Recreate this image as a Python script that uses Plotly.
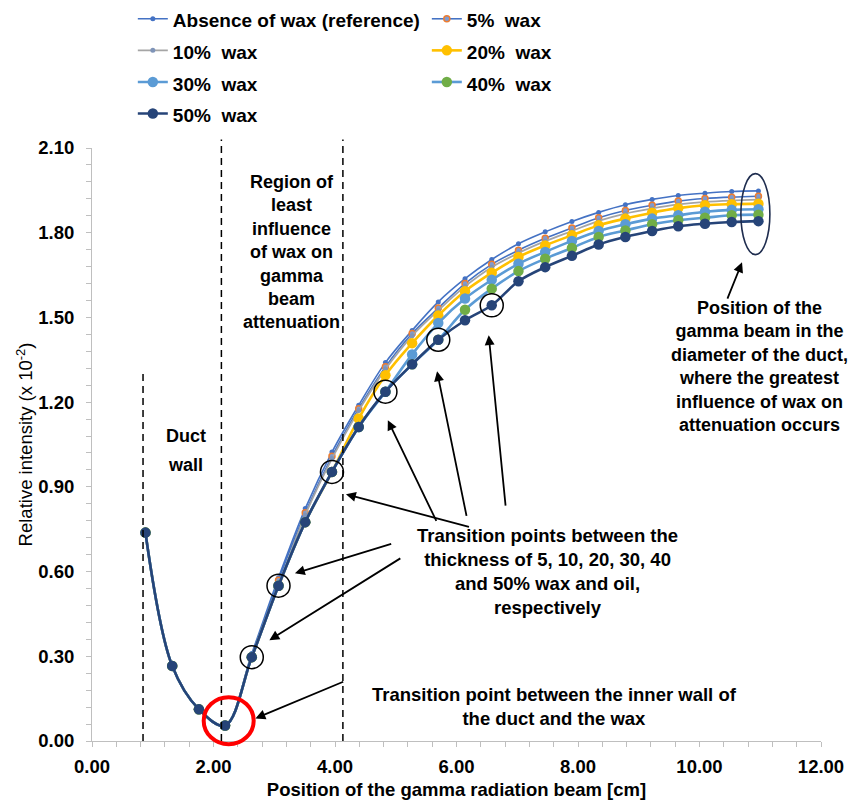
import plotly.graph_objects as go

# ---------------- data ----------------
x_pos = [0.88, 1.32, 1.76, 2.19, 2.63, 3.07, 3.51, 3.95, 4.39, 4.83, 5.27, 5.70,
         6.14, 6.58, 7.02, 7.46, 7.90, 8.34, 8.78, 9.22, 9.65, 10.09, 10.53, 10.97]

ref_wax = [0.738, 0.266, 0.112, 0.055, 0.310, 0.578, 0.823, 1.023, 1.189, 1.340, 1.454, 1.555,
           1.637, 1.705, 1.761, 1.803, 1.840, 1.872, 1.899, 1.918, 1.932, 1.940, 1.946, 1.948]
wax_5 = [0.738, 0.266, 0.112, 0.055, 0.300, 0.569, 0.808, 1.008, 1.177, 1.325, 1.443, 1.533,
         1.620, 1.688, 1.738, 1.780, 1.817, 1.853, 1.879, 1.897, 1.912, 1.921, 1.926, 1.929]
wax_10 = [0.738, 0.266, 0.112, 0.055, 0.297, 0.550, 0.800, 1.000, 1.170, 1.317, 1.435, 1.525,
          1.610, 1.678, 1.728, 1.770, 1.806, 1.842, 1.868, 1.886, 1.900, 1.909, 1.914, 1.917]
wax_20 = [0.738, 0.266, 0.112, 0.055, 0.297, 0.550, 0.775, 0.953, 1.142, 1.295, 1.409, 1.507,
          1.593, 1.658, 1.714, 1.755, 1.791, 1.826, 1.850, 1.871, 1.887, 1.897, 1.901, 1.903]
wax_30 = [0.738, 0.266, 0.112, 0.055, 0.297, 0.550, 0.775, 0.953, 1.112, 1.237, 1.369, 1.480,
          1.567, 1.633, 1.690, 1.732, 1.771, 1.806, 1.830, 1.850, 1.862, 1.874, 1.881, 1.883]
wax_40 = [0.738, 0.266, 0.112, 0.055, 0.297, 0.550, 0.775, 0.953, 1.112, 1.237, 1.334, 1.421,
          1.527, 1.602, 1.664, 1.708, 1.746, 1.785, 1.808, 1.830, 1.844, 1.853, 1.862, 1.864]
wax_50 = [0.738, 0.266, 0.112, 0.055, 0.297, 0.550, 0.775, 0.953, 1.112, 1.237, 1.334, 1.421,
          1.490, 1.543, 1.628, 1.678, 1.718, 1.758, 1.785, 1.806, 1.823, 1.832, 1.838, 1.841]

series_names = ["Absence of wax (reference)", "5%  wax", "10%  wax", "20%  wax",
                "30%  wax", "40%  wax", "50%  wax"]

transition_idx = [4, 5, 7, 9, 11, 13]     # points circled on the 50% curve
duct_lines_x = [0.84, 2.13, 4.13]
duct_lines_top = [1.31, 2.13, 2.13]

x_ticks = [0, 2, 4, 6, 8, 10, 12]
y_ticks = [0.0, 0.3, 0.6, 0.9, 1.2, 1.5, 1.8, 2.1]

# ---------------- layout geometry ----------------
W_FIG, H_FIG = 849, 803
M_L, M_R, M_T, M_B = 92, 28, 148, 62
PW = W_FIG - M_L - M_R
PH = H_FIG - M_T - M_B
XR = [0, 12]
YR = [0, 2.1]


def px(v):
    return (v - XR[0]) / (XR[1] - XR[0])


def py(v):
    return (v - YR[0]) / (YR[1] - YR[0])


FONT = "Liberation Sans, Arial, sans-serif"

styles = [
    dict(line=dict(color="#4472C4", width=1.6), marker=dict(size=5, color="#4472C4")),
    dict(line=dict(color="#4472C4", width=1.6),
         marker=dict(size=6, color="#7F9BD0", line=dict(color="#ED7D31", width=1.5))),
    dict(line=dict(color="#A5A5A5", width=1.8), marker=dict(size=5, color="#7F94B8")),
    dict(line=dict(color="#FFC000", width=2.6), marker=dict(size=10.5, color="#FFC000")),
    dict(line=dict(color="#5B9BD5", width=2.6), marker=dict(size=10.5, color="#5B9BD5")),
    dict(line=dict(color="#5B9BD5", width=2.6), marker=dict(size=10.5, color="#70AD47")),
    dict(line=dict(color="#264478", width=2.6), marker=dict(size=10.5, color="#264478")),
]
all_y = [ref_wax, wax_5, wax_10, wax_20, wax_30, wax_40, wax_50]

fig = go.Figure()
for name, yv, st in zip(series_names, all_y, styles):
    fig.add_trace(go.Scatter(
        x=x_pos, y=yv, mode="lines+markers",
        name='<span style="font-size:19px">' + name + "</span>",
        line=dict(shape="spline", smoothing=1.0, **st["line"]),
        marker=st["marker"],
    ))

shapes = []
# dashed vertical lines
for xv, top in zip(duct_lines_x, duct_lines_top):
    shapes.append(dict(type="line", xref="paper", yref="paper",
                       x0=px(xv), x1=px(xv), y0=py(0), y1=py(top),
                       line=dict(color="black", width=1.5, dash="7px,5px")))
# black circles on transition points
r = 11.5
for i in transition_idx:
    cx, cy = px(x_pos[i]), py(wax_50[i])
    shapes.append(dict(type="circle", xref="paper", yref="paper",
                       x0=cx - r / PW, x1=cx + r / PW, y0=cy - r / PH, y1=cy + r / PH,
                       line=dict(color="black", width=1.5)))
# red circle at inner wall / wax transition
rcx, rcy = px(2.25), py(0.072)
shapes.append(dict(type="circle", xref="paper", yref="paper",
                   x0=rcx - 25 / PW, x1=rcx + 25 / PW, y0=rcy - 23.5 / PH, y1=rcy + 23.5 / PH,
                   line=dict(color="#FF0000", width=4)))
# ellipse at the end of the curves
ecx, ecy = px(10.92), py(1.866)
shapes.append(dict(type="circle", xref="paper", yref="paper",
                   x0=ecx - 14.5 / PW, x1=ecx + 14.5 / PW, y0=ecy - 40.5 / PH, y1=ecy + 40.5 / PH,
                   line=dict(color="#1F2D4F", width=1.6)))

# arrows (tail -> head) in data coordinates, drawn as line shapes + arrowheads
arrows = [
    ((6.23, 0.757), (4.18, 0.874)),
    ((4.95, 0.700), (3.34, 0.594)),
    ((5.10, 0.650), (2.92, 0.357)),
    ((5.68, 0.774), (4.87, 1.136)),
    ((6.17, 0.792), (5.68, 1.309)),
    ((6.81, 0.828), (6.53, 1.437)),
    ((4.16, 0.212), (2.69, 0.080)),
    ((10.45, 1.561), (10.70, 1.695)),
]
annotations = []
for (tx, ty), (hx, hy) in arrows:
    annotations.append(dict(x=hx, y=hy, xref="x", yref="y", ax=tx, ay=ty,
                            axref="x", ayref="y", text="", showarrow=True,
                            arrowhead=2, arrowsize=1.1, arrowwidth=1.8,
                            arrowcolor="black", standoff=0, startstandoff=0))


def txt(x, y, s, size):
    return dict(x=x, y=y, xref="x", yref="y", text="<b>" + s + "</b>", showarrow=False,
                align="center", xanchor="center", yanchor="middle",
                font=dict(family=FONT, size=size, color="black"))


annotations += [
    txt(1.54, 1.079, "Duct", 18),
    txt(1.54, 0.976, "wall", 18),
    txt(3.29, 1.732, "Region of<br>least<br>influence<br>of wax on<br>gamma<br>beam<br>attenuation", 18),
    txt(10.98, 1.325, "Position of the<br>gamma beam in the<br>diameter of the duct,<br>where the greatest<br>influence of wax on<br>attenuation occurs", 18),
    txt(7.50, 0.599, "Transition points between the<br>thickness of 5, 10, 20, 30, 40<br>and 50% wax and oil,<br>respectively", 18.5),
    txt(7.62, 0.123, "Transition point between the inner wall of<br>the duct and the wax", 18.5),
]

axis_common = dict(
    showline=True, linecolor="#BFBFBF", linewidth=1,
    showgrid=False, zeroline=False,
    ticks="outside", ticklen=5, tickcolor="#BFBFBF", tickwidth=1,
    tickfont=dict(family=FONT, size=18.5, color="black", weight="bold"),
)

fig.update_layout(
    width=W_FIG, height=H_FIG,
    margin=dict(l=M_L, r=M_R, t=M_T, b=M_B, autoexpand=False),
    paper_bgcolor="white", plot_bgcolor="white",
    font=dict(family=FONT, color="black"),
    xaxis=dict(range=XR, tickvals=x_ticks, tickformat=".2f",
               minor=dict(dtick=0.4, tick0=0, ticks="outside", ticklen=5, tickcolor="#BFBFBF"),
               ticklabelstandoff=4,
               title=dict(text="Position of the gamma radiation beam [cm]", standoff=6,
                          font=dict(family=FONT, size=18.5, color="black", weight="bold")),
               **axis_common),
    yaxis=dict(range=YR, tickvals=y_ticks, tickformat=".2f",
               minor=dict(dtick=0.06, tick0=0, ticks="outside", ticklen=5, tickcolor="#BFBFBF"),
               ticklabelstandoff=8,
               title=dict(text="Relative intensity (x 10<sup>-2</sup>)", standoff=0,
                          font=dict(family=FONT, size=18.5, color="black")),
               **axis_common),
    legend=dict(orientation="h", x=0.056, y=1.253, xanchor="left", yanchor="top",
                entrywidth=249, entrywidthmode="pixels",
                font=dict(family=FONT, size=22, color="black", weight="bold"),
                bgcolor="rgba(0,0,0,0)", traceorder="normal"),
    shapes=shapes,
    annotations=annotations,
    showlegend=True,
)

fig.write_html("out.html")
